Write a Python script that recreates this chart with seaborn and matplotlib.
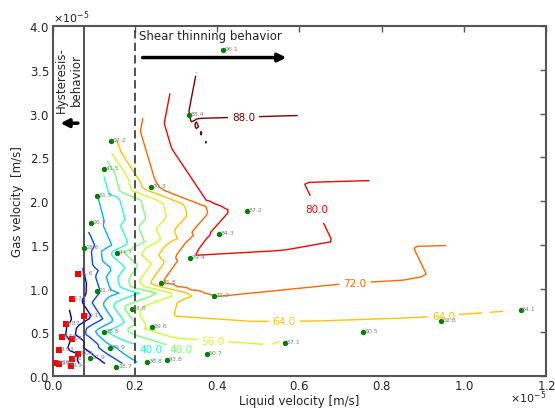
import numpy as np
import matplotlib
matplotlib.use("Agg")
import matplotlib.pyplot as plt
import matplotlib.tri as mtri
from matplotlib.colors import Normalize
import seaborn as sns

# measured points, velocities in units of 1e-5 m/s
liq_vel = [0.415, 0.332, 0.142, 0.125, 0.1085, 0.0924, 0.077, 0.240, 0.157, 0.405,
           0.335, 0.473, 0.107, 0.264, 0.192, 0.124, 0.241, 0.139, 0.091, 0.155,
           0.230, 0.279, 0.393, 0.375, 0.565, 0.754, 0.945, 1.138]
gas_vel = [3.73, 2.98, 2.69, 2.37, 2.06, 1.75, 1.46, 2.16, 1.41, 1.62,
           1.345, 1.89, 0.968, 1.06, 0.77, 0.50, 0.56, 0.32, 0.21, 0.106,
           0.156, 0.186, 0.918, 0.251, 0.377, 0.506, 0.629, 0.758]
values = [96.1, 88.4, 62.2, 41.5, 31.9, 26.7, 18.6, 70.3, 44.7, 84.3,
          79.4, 87.2, 21.4, 71.8, 53.8, 38.8, 59.6, 29.9, 12.9, 18.7,
          36.8, 43.8, 72.2, 50.7, 57.1, 60.5, 62.8, 64.1]

# hysteresis region points
hyst_liq = [0.0616, 0.046, 0.076, 0.0316, 0.0234, 0.046, 0.016, 0.0616, 0.046, 0.0064, 0.015, 0.0445]
hyst_gas = [1.17, 0.877, 0.686, 0.59, 0.446, 0.42, 0.297, 0.251, 0.194, 0.145, 0.137, 0.118]
hyst_values = [11.6, 8.73, 10.1, 6.87, 5.55, 8.41, 4.03, 7.04, 6.17, 0.99, 0.98, 4.94]

plain_levels = [8, 16, 24, 32]
labeled_levels = [40, 48, 56, 64, 72, 80, 88]
label_pos = [(0.464, 2.96), (0.645, 1.91), (0.735, 1.063), (0.563, 0.632), (0.95, 0.697),
             (0.389, 0.415), (0.314, 0.317), (0.238, 0.305)]

scale = 1e-5

sns.set_style("white")
plt.rcParams['font.family'] = ['DejaVu Sans']
plt.rcParams['font.size'] = 8.5
plt.rcParams['axes.formatter.use_mathtext'] = True

fig = plt.figure(figsize=(5.55, 4.1), dpi=100)
ax = fig.add_axes([0.095, 0.0805, 0.889, 0.8535])

# linear interpolation of all points onto a regular grid, then contour
all_lx = np.array(liq_vel + hyst_liq)
all_gy = np.array(gas_vel + hyst_gas)
all_v = np.array(values + hyst_values)
tri = mtri.Triangulation(all_lx, all_gy)
interp = mtri.LinearTriInterpolator(tri, all_v)
gx, gy = np.meshgrid(np.linspace(all_lx.min(), all_lx.max(), 100),
                     np.linspace(all_gy.min(), all_gy.max(), 100))
gz = interp(gx, gy)

norm = Normalize(8, 88)
ax.contour(gx * scale, gy * scale, gz, levels=plain_levels, cmap='jet', norm=norm, linewidths=1.0)
cs = ax.contour(gx * scale, gy * scale, gz, levels=labeled_levels, cmap='jet', norm=norm, linewidths=1.0)
texts = ax.clabel(cs, fmt='%.1f', fontsize=7.5,
                  manual=[(px * scale, py * scale) for px, py in label_pos])
for t in texts:
    t.set_rotation(0)

sns.scatterplot(x=np.array(hyst_liq) * scale, y=np.array(hyst_gas) * scale, color='red',
                marker='s', s=17, linewidth=0, ax=ax, zorder=3)
sns.scatterplot(x=np.array(liq_vel) * scale, y=np.array(gas_vel) * scale, color='green',
                s=15, linewidth=0, ax=ax, zorder=3)

for xi, yi, v in zip(all_lx, all_gy, all_v):
    ax.annotate(str(v), (xi * scale, yi * scale), xytext=(1, 1), textcoords='offset points',
                fontsize=4.5, color='gray', ha='left', va='center')

# regime borders
ax.axvline(0.075 * scale, color='#333333', lw=1.2)
ax.axvline(0.2 * scale, color='#333333', lw=1.2, ls=(0, (5, 2.5)))

ax.text(0.211 * scale, 3.89 * scale, "Shear thinning behavior", fontsize=8.5, ha='left', va='center')
ax.annotate('', xy=(0.575 * scale, 3.64 * scale), xytext=(0.212 * scale, 3.64 * scale),
            arrowprops=dict(arrowstyle='-|>', lw=2.5, color='black', mutation_scale=12))
ax.text(0.04 * scale, 3.39 * scale, "Hysteresis-\nbehavior", rotation=90, fontsize=8.5,
        ha='center', va='center')
ax.annotate('', xy=(0.012 * scale, 2.89 * scale), xytext=(0.068 * scale, 2.89 * scale),
            arrowprops=dict(arrowstyle='-|>', lw=2.5, color='black', mutation_scale=12))

ax.set_xlim(0, 1.2e-5)
ax.set_ylim(0, 4.0e-5)
ax.set_xticks(np.arange(0, 1.21e-5, 0.2e-5))
ax.set_yticks(np.arange(0, 4.01e-5, 0.5e-5))
ax.set_xlabel("Liquid velocity [m/s]", labelpad=1)
ax.set_ylabel("Gas velocity  [m/s]")
ax.tick_params(direction='in', top=True, right=True, length=4, width=1, color='#555555', pad=2.5)
ax.xaxis.get_offset_text().set_fontsize(8)
ax.xaxis.get_offset_text().set_verticalalignment('center')
ax.yaxis.get_offset_text().set_fontsize(8)
for sp in ax.spines.values():
    sp.set_color('#555555')
    sp.set_linewidth(1.5)

plt.savefig("out.png", dpi=100)
